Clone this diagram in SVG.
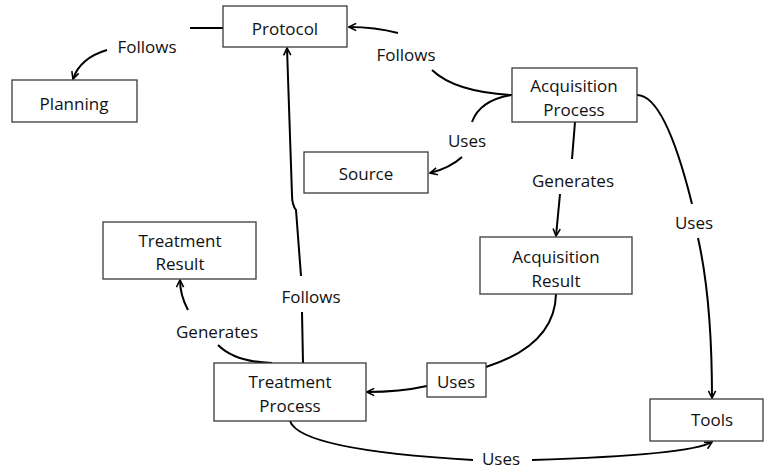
<svg xmlns="http://www.w3.org/2000/svg" width="764" height="470" viewBox="0 0 764 470">
<defs>
<marker id="arr" viewBox="0 0 10 10" refX="9" refY="5" markerWidth="9" markerHeight="9" markerUnits="userSpaceOnUse" orient="auto">
<path d="M1,1 L9,5 L1,9" fill="none" stroke="#000" stroke-width="1.8"/>
</marker>
<style>
.box{fill:#fff;stroke:#3a3a3a;stroke-width:1.3}
.t{font-family:"Open Sans","Liberation Sans",sans-serif;font-size:17px;fill:#111;text-anchor:middle}
.c{fill:none;stroke:#000;stroke-width:2}
</style>
</defs>
<rect width="764" height="470" fill="#fff"/>
<g id="connectors">
<path class="c" d="M223,28 L190,28"/>
<path class="c" d="M107,50 Q80,58 73,79" marker-end="url(#arr)"/>
<path class="c" d="M512,95 Q455,92 432,70"/>
<path class="c" d="M398,33 Q375,27 349,27" marker-end="url(#arr)"/>
<path class="c" d="M512,95 Q480,100 472,122"/>
<path class="c" d="M462,157 Q450,168 430,173" marker-end="url(#arr)"/>
<path class="c" d="M575,122 L572,159"/>
<path class="c" d="M560,194 L556,236" marker-end="url(#arr)"/>
<path class="c" d="M637,95 Q665,95 692,204"/>
<path class="c" d="M698,238 Q712,300 712,398" marker-end="url(#arr)"/>
<path class="c" d="M556,294 Q555,345 486,367"/>
<path class="c" d="M427,386 Q400,392 367,392" marker-end="url(#arr)"/>
<path class="c" d="M272,363 Q235,362 218,345"/>
<path class="c" d="M188,310 Q180,295 180,280" marker-end="url(#arr)"/>
<path class="c" d="M303,363 L302,312"/>
<path class="c" d="M301,276 L296,210 Q292,205 292,195 L287,48" marker-end="url(#arr)"/>
<path class="c" d="M290,421 Q300,450 473,460"/>
<path class="c" d="M532,460 Q690,455 712,442" marker-end="url(#arr)"/>
</g>
<g id="labels">
<text class="t" x="147" y="53">Follows</text>
<text class="t" x="406" y="61">Follows</text>
<text class="t" x="467" y="147">Uses</text>
<text class="t" x="573" y="187">Generates</text>
<text class="t" x="694" y="229">Uses</text>
<text class="t" x="311" y="303">Follows</text>
<text class="t" x="217" y="338">Generates</text>
<text class="t" x="501" y="465">Uses</text>
</g>
<g id="uses-box">
<rect class="box" x="427" y="363" width="59" height="34"/>
<text class="t" x="456" y="388">Uses</text>
</g>
<g id="protocol">
<rect class="box" x="223" y="6" width="124" height="41"/>
<text class="t" x="285" y="35">Protocol</text>
</g>
<g id="planning">
<rect class="box" x="12" y="80" width="125" height="42"/>
<text class="t" x="74" y="110">Planning</text>
</g>
<g id="acquisition-process">
<rect class="box" x="512" y="68" width="125" height="54"/>
<text class="t" x="574" y="92">Acquisition</text>
<text class="t" x="574" y="116">Process</text>
</g>
<g id="source">
<rect class="box" x="304" y="152" width="124" height="41"/>
<text class="t" x="366" y="180">Source</text>
</g>
<g id="acquisition-result">
<rect class="box" x="480" y="237" width="152" height="57"/>
<text class="t" x="556" y="263">Acquisition</text>
<text class="t" x="556" y="287">Result</text>
</g>
<g id="tools">
<rect class="box" x="650" y="399" width="113" height="42"/>
<text class="t" x="712" y="426">Tools</text>
</g>
<g id="treatment-result">
<rect class="box" x="103" y="222" width="153" height="57"/>
<text class="t" x="180" y="247">Treatment</text>
<text class="t" x="180" y="270">Result</text>
</g>
<g id="treatment-process">
<rect class="box" x="214" y="363" width="152" height="58"/>
<text class="t" x="290" y="388">Treatment</text>
<text class="t" x="290" y="412">Process</text>
</g>
</svg>
